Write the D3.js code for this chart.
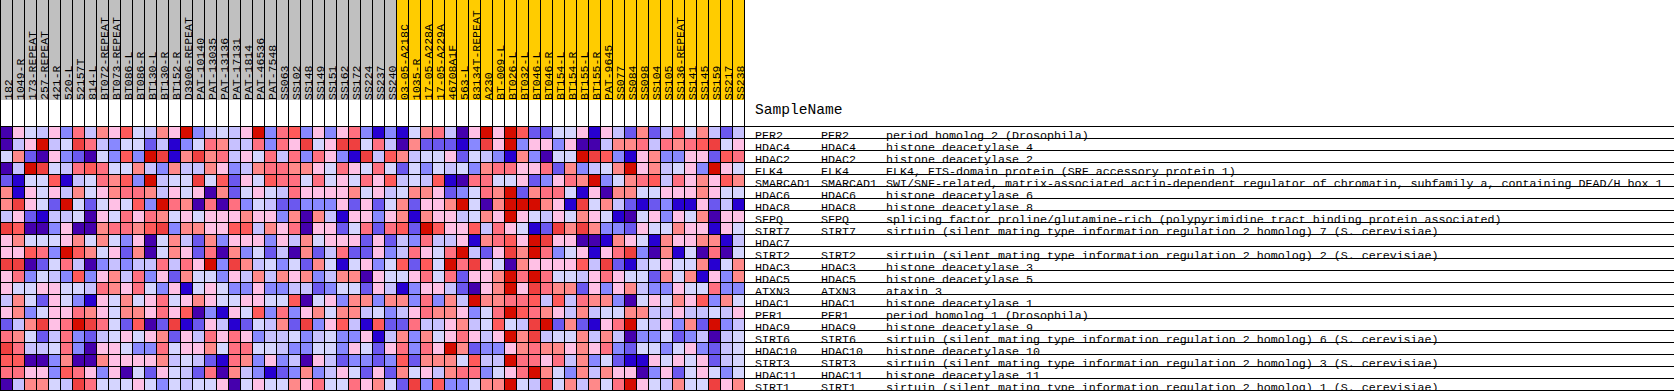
<!DOCTYPE html>
<html>
<head>
<meta charset="utf-8">
<script src="https://cdn.jsdelivr.net/npm/d3@7"></script>
<style>
  body { margin: 0; background: #fff; }
  text { font-family: "Liberation Mono", monospace; fill: #000; }
</style>
</head>
<body>
<div id="heatmap"></div>
<script>
const grayNames = ["182","1049-R","173-REPEAT","257-REPEAT","421-R","520-L","52157T","814-L","BT072-REPEAT","BT073-REPEAT","BT086-L","BT086-R","BT130-L","BT130-R","BT152-R","D3906-REPEAT","PAT-10140","PAT-13035","PAT-13136","PAT-17131","PAT-1814","PAT-46536","PAT-7548","SS063","SS102","SS148","SS149","SS151","SS162","SS172","SS224","SS237","SS240"]
const orangeNames = ["03-05-A218C","1035-R","17-05-A228A","17-05-A229A","46708A1F","563-L","83134T-REPEAT","A230","BT-009-L","BT026-L","BT032-L","BT046-L","BT046-R","BT154-L","BT154-R","BT155-L","BT155-R","PAT-9645","SS077","SS084","SS098","SS104","SS105","SS136-REPEAT","SS141","SS145","SS159","SS217","SS238"]
const symbols = ["PER2","HDAC4","HDAC2","ELK4","SMARCAD1","HDAC6","HDAC8","SFPQ","SIRT7","HDAC7","SIRT2","HDAC3","HDAC5","ATXN3","HDAC1","PER1","HDAC9","SIRT6","HDAC10","SIRT3","HDAC11","SIRT1"]
const hasGeneInfo = symbols.map(s => s !== "HDAC7")
const sirtuin = n => "sirtuin (silent mating type information regulation 2 homolog) " + n + " (S. cerevisiae)"
const descriptions = [
  "period homolog 2 (Drosophila)",
  "histone deacetylase 4",
  "histone deacetylase 2",
  "ELK4, ETS-domain protein (SRF accessory protein 1)",
  "SWI/SNF-related, matrix-associated actin-dependent regulator of chromatin, subfamily a, containing DEAD/H box 1",
  "histone deacetylase 6",
  "histone deacetylase 8",
  "splicing factor proline/glutamine-rich (polypyrimidine tract binding protein associated)",
  sirtuin(7),
  "",
  sirtuin(2),
  "histone deacetylase 3",
  "histone deacetylase 5",
  "ataxin 3",
  "histone deacetylase 1",
  "period homolog 1 (Drosophila)",
  "histone deacetylase 9",
  sirtuin(6),
  "histone deacetylase 10",
  sirtuin(3),
  "histone deacetylase 11",
  sirtuin(1)
]
// colour bins, 0 = lowest expression, 11 = highest
const levels = [
  [0,6,5,4,6,3,8,4,7,6,9,5,4,7,6,11,3,4,5,4,6,11,3,8,9,3,6,3,6,8,3, 1,3,1,5,7,8,4,0,6,11,6,11,9,2,2,5,5,6,1,6,4,2,7,2,4,8,5,7,4,2,4],
  [0,4,6,11,4,5,10,8,4,3,5,5,2,4,1,3,5,8,7,4,4,8,3,8,6,10,5,6,10,10,5, 8,4,0,7,2,2,2,1,3,10,6,11,3,6,6,3,6,0,0,4,7,7,8,4,8,7,8,9,10,5,6],
  [5,7,2,0,6,3,2,0,5,3,9,3,11,10,1,7,10,7,8,4,6,5,8,4,8,3,8,6,3,1,10, 4,9,7,4,5,5,6,2,5,4,3,1,7,3,0,5,5,11,10,9,3,1,6,7,3,3,6,6,2,9,8],
  [0,4,11,10,5,4,8,9,8,5,5,7,4,3,7,4,4,7,6,3,4,7,8,8,7,7,6,5,8,6,5, 8,5,2,5,3,5,4,5,3,7,8,8,6,6,8,2,7,3,4,5,7,11,6,7,4,5,6,3,11,6,5],
  [2,1,5,5,9,1,4,5,8,7,9,3,11,4,5,5,10,5,9,2,6,5,9,8,8,5,8,5,6,5,8, 6,9,4,5,4,9,1,0,8,8,5,5,6,2,3,6,8,7,11,3,5,7,8,9,4,8,6,7,6,9,7],
  [7,1,6,5,6,4,7,5,6,7,8,8,7,4,6,5,6,0,7,2,5,6,5,4,8,6,6,6,6,7,5, 6,4,5,7,7,6,2,3,5,8,7,11,2,7,8,8,5,1,6,0,7,7,5,5,6,6,6,7,6,5,5],
  [7,10,6,5,2,11,5,2,5,6,5,9,3,11,8,7,0,8,0,8,3,5,4,2,2,3,3,3,6,2,6, 2,5,7,2,6,6,7,11,5,0,7,11,11,11,7,6,1,10,5,7,4,2,1,2,3,1,1,6,2,4,1],
  [4,6,2,1,4,4,5,0,6,5,8,6,8,7,5,6,5,6,6,6,7,6,6,3,7,0,7,4,1,6,6, 3,6,7,1,7,6,6,4,5,7,6,11,6,5,4,6,5,7,6,5,1,0,5,6,3,6,5,7,0,6,6],
  [10,9,0,0,3,6,0,0,7,8,8,7,9,10,3,7,7,6,6,9,9,4,7,6,8,0,6,6,2,5,8, 2,8,9,2,11,9,6,6,9,4,8,6,5,1,2,10,7,10,7,3,3,2,6,5,5,7,6,6,1,6,5],
  [6,7,5,5,5,6,7,5,7,5,3,6,0,5,7,4,2,7,3,6,6,6,3,6,4,7,5,6,6,6,2, 6,2,4,3,8,4,4,6,1,7,8,9,6,11,10,6,6,0,0,1,7,6,5,1,7,6,6,7,7,1,4],
  [6,6,9,8,3,11,9,7,5,6,2,7,0,5,7,6,2,8,0,7,3,5,2,4,0,7,2,4,8,2,2, 6,3,4,8,6,5,8,11,4,2,6,10,7,11,8,3,5,6,1,6,8,10,3,0,7,1,5,0,8,0,5],
  [10,10,0,2,5,8,4,0,3,4,3,4,4,8,4,8,6,11,3,10,7,4,5,3,5,2,7,5,1,5,6, 3,5,9,2,9,5,11,8,10,6,5,0,7,6,6,6,6,9,4,10,2,1,4,5,6,5,5,7,1,5,7],
  [6,8,3,5,4,3,9,3,6,7,4,8,3,6,2,7,5,5,3,6,4,7,4,7,6,7,3,4,7,7,0, 6,5,5,6,8,5,8,2,6,6,7,11,8,11,8,5,5,4,6,8,6,5,5,2,7,5,7,1,6,3,7],
  [6,5,5,6,6,5,5,4,8,7,6,8,5,3,6,1,5,6,5,3,3,6,3,3,4,4,2,3,5,5,2, 6,4,1,3,6,6,4,2,0,6,7,11,6,10,8,7,7,2,6,3,6,7,4,3,3,6,5,5,8,3,3],
  [4,7,5,2,6,5,3,1,6,5,7,5,6,8,5,6,7,6,5,5,6,6,5,5,9,0,5,6,3,7,7, 3,7,7,3,8,3,7,4,11,7,7,8,8,9,4,9,4,8,7,7,3,0,5,6,5,7,6,9,3,7,5],
  [6,7,3,5,6,6,8,7,6,5,7,7,6,8,6,9,0,3,1,6,5,9,3,8,3,6,7,5,7,7,4, 5,3,4,6,8,7,7,6,3,5,8,11,9,8,7,6,4,7,4,5,5,7,7,4,4,6,4,4,5,4,6],
  [2,4,7,10,6,8,11,10,8,5,2,9,0,2,10,1,2,6,4,1,2,5,4,7,2,10,3,6,9,4,1, 9,2,2,8,4,4,6,7,4,5,9,5,4,10,11,2,7,2,1,6,8,11,5,4,6,3,7,2,11,3,4],
  [8,7,5,2,4,8,3,2,4,5,6,5,6,7,2,6,4,8,6,8,6,3,4,4,5,3,4,5,3,3,6, 1,4,7,3,7,5,6,8,6,4,6,11,7,10,4,5,5,7,4,7,4,0,3,3,5,2,3,4,0,4,5],
  [10,8,4,4,5,8,3,0,6,6,5,3,3,8,5,6,6,7,5,8,8,5,5,4,3,3,5,5,3,6,5, 2,6,8,3,8,6,11,7,2,3,3,6,7,8,7,7,6,7,6,8,3,2,5,5,3,5,6,3,2,4,5],
  [9,9,0,0,3,7,0,0,7,6,6,6,6,7,4,5,4,2,1,8,7,3,6,3,4,0,6,4,2,3,3, 2,3,9,2,7,7,7,5,9,4,4,11,8,8,6,8,4,7,3,5,2,1,1,6,5,6,5,6,2,4,5],
  [8,8,6,6,3,9,8,6,3,6,0,5,2,6,5,4,2,8,0,7,4,3,1,2,3,7,3,4,6,5,2, 6,2,7,5,6,4,7,8,8,3,5,6,8,11,7,5,3,7,4,7,6,6,0,3,6,2,5,6,5,3,5],
  [0,4,7,7,5,4,10,8,5,5,5,6,5,3,5,4,5,5,6,0,5,6,5,5,7,6,8,5,5,8,6, 7,5,2,10,3,9,3,3,5,7,7,11,5,4,10,5,7,4,7,5,8,11,6,5,4,7,5,5,10,6,7]
]
const palette = ["#4500AD","#2700D1","#6B58EF","#8888FF","#C7C1FF","#D5D5FF","#FFC0E5","#FF8989","#FF7080","#FF5A5A","#EF4040","#D60C00"]

const sizeGraph = {width: 1674, height: 391}
const headerHeight = 100
const gridTop = 126
const GENE_X = 755
const SYMBOL_X = 821
const DESC_X = 886

const allNames = grayNames.concat(orangeNames)

let svg = d3.select("#heatmap")
  .append("svg")
  .attr("width", sizeGraph.width)
  .attr("height", sizeGraph.height)
  .style("display", "block")

let xScale = d3.scaleBand().domain(d3.range(allNames.length)).range([0, 744])
let yScale = d3.scaleBand().domain(d3.range(symbols.length)).range([gridTop, gridTop + 264])
let colorScale = d3.scaleOrdinal().domain(d3.range(palette.length)).range(palette)

// coloured header strip behind the sample names
svg.append("g").selectAll("rect")
  .data(allNames)
  .join("rect")
  .attr("x", (d, i) => xScale(i))
  .attr("y", 0)
  .attr("width", xScale.bandwidth())
  .attr("height", headerHeight)
  .attr("fill", (d, i) => i < grayNames.length ? "#C0C0C0" : "#FFCC00")

svg.append("g").selectAll("text")
  .data(allNames)
  .join("text")
  .attr("transform", (d, i) => "translate(" + (xScale(i) + 12) + "," + headerHeight + ") rotate(-90)")
  .style("font-size", "11.5px")
  .text(d => d)

// heat cells
svg.append("g").selectAll("g")
  .data(levels)
  .join("g")
  .attr("transform", (d, i) => "translate(0," + yScale(i) + ")")
  .selectAll("rect")
  .data(d => d)
  .join("rect")
  .attr("x", (d, i) => xScale(i))
  .attr("width", xScale.bandwidth())
  .attr("height", yScale.bandwidth())
  .attr("fill", d => colorScale(d))

svg.append("text")
  .attr("x", GENE_X)
  .attr("y", 114)
  .style("font-size", "14.6px")
  .text("SampleName")

let geneRows = svg.append("g").selectAll("g")
  .data(symbols)
  .join("g")
  .attr("transform", (d, i) => "translate(0," + (yScale(i) + yScale.bandwidth() + 1) + ")")
  .style("font-size", "11.67px")

geneRows.append("text").attr("x", GENE_X).text(d => d)
geneRows.append("text").attr("x", SYMBOL_X).text((d, i) => hasGeneInfo[i] ? d : "")
geneRows.append("text").attr("x", DESC_X).text((d, i) => descriptions[i])

// black grid goes on top of everything
let grid = svg.append("g").attr("stroke", "#000").attr("shape-rendering", "crispEdges")

grid.selectAll(".vline")
  .data(d3.range(allNames.length + 1))
  .join("line")
  .attr("class", "vline")
  .attr("x1", d => d * xScale.step() + 0.5)
  .attr("x2", d => d * xScale.step() + 0.5)
  .attr("y1", 0)
  .attr("y2", sizeGraph.height)

grid.selectAll(".hline")
  .data(d3.range(symbols.length + 1))
  .join("line")
  .attr("class", "hline")
  .attr("x1", 0)
  .attr("x2", sizeGraph.width)
  .attr("y1", d => gridTop + d * yScale.step() + 0.5)
  .attr("y2", d => gridTop + d * yScale.step() + 0.5)
</script>
</body>
</html>
